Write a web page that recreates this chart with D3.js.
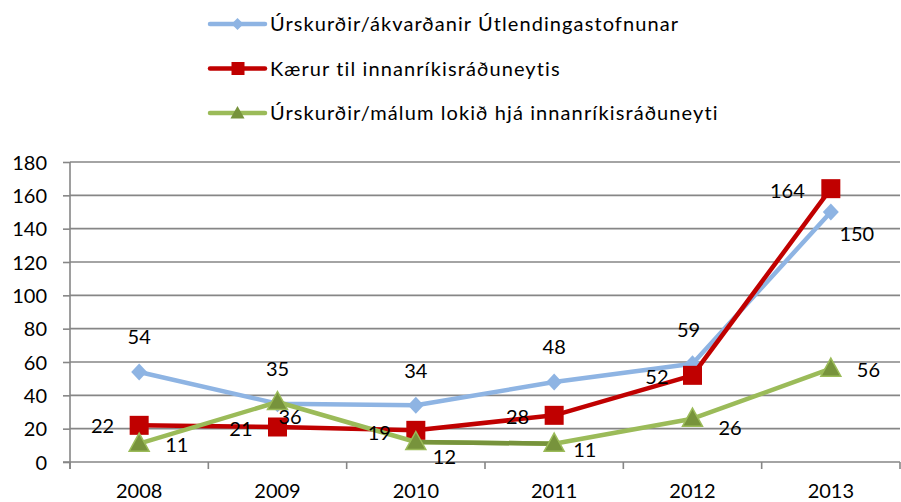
<!DOCTYPE html>
<html>
<head>
<meta charset="utf-8">
<script src="https://cdn.jsdelivr.net/npm/d3@7"></script>
<style>
  body{margin:0;background:#fff;}
  text{font-family:Lato,"Open Sans",sans-serif;fill:#000;}
</style>
</head>
<body>
<svg id="chart" width="901" height="502"></svg>
<script>
// data
var years    = ['2008','2009','2010','2011','2012','2013'];
var names    = ['Úrskurðir/ákvarðanir Útlendingastofnunar',
                'Kærur til innanríkisráðuneytis',
                'Úrskurðir/málum lokið hjá innanríkisráðuneyti'];
var decisions = [54,35,34,48,59,150];
var appeals   = [22,21,19,28,52,164];
var resolved  = [11,36,12,11,26,56];
var yTicks    = [0,20,40,60,80,100,120,140,160,180];

// styles
var colors = ['#8eb4e3','#c00000','#9bbb59'];
var markFill = ['#8eb4e3','#c00000','#77933c'];
var fs = '20px';
// label offsets from the point (dx, dy, anchor)
var labOff = [
  [[0,-35,'middle'],[0,-35,'middle'],[0,-34,'middle'],[0,-35,'middle'],[-4,-34,'middle'],[26,22,'middle']],
  [[-25,1,'end'],[-25,2,'end'],[-25,3,'end'],[-25,2,'end'],[-24,2,'end'],[-26,2,'end']],
  [[26,1,'start'],[1,15,'start'],[17,15,'start'],[19,6,'start'],[26,9,'start'],[26,1,'start']]
];
var series = [decisions,appeals,resolved];

var svg = d3.select('#chart');
var pl = 70, pr = 900, pt = 162, pb = 462;
var x = d3.scaleBand().domain(years).range([pl,pr]);
var y = d3.scaleLinear().domain([0,180]).range([pb,pt]);
var cx = function(i){return x(years[i])+x.bandwidth()/2;};

// grid
svg.append('g').selectAll('line').data(yTicks.filter(t=>t>0)).enter()
  .append('line').attr('x1',pl).attr('x2',pr)
  .attr('y1',d=>y(d)).attr('y2',d=>y(d))
  .attr('stroke','#868686').attr('stroke-width',1.6);

// axes
var ya = svg.append('g').attr('transform','translate('+pl+',0)')
  .call(d3.axisLeft(y).tickValues(yTicks).tickSize(7).tickPadding(16));
ya.select('.domain').attr('stroke','#868686').attr('stroke-width',1.6).attr('d','M0,'+(pb+7)+'V'+pt);
ya.selectAll('.tick line').attr('stroke','#868686').attr('stroke-width',1.6);
ya.selectAll('.tick text').style('font-size',fs).style('font-family','Lato').attr('fill','#000').attr('dy','0.35em');

var xa = svg.append('g').attr('transform','translate(0,'+pb+')');
xa.append('line').attr('x1',pl-7).attr('x2',pr).attr('stroke','#868686').attr('stroke-width',1.6);
xa.selectAll('.xt').data(d3.range(years.length+1)).enter().append('line')
  .attr('x1',i=>pl+i*x.step()).attr('x2',i=>pl+i*x.step())
  .attr('y1',0).attr('y2',7).attr('stroke','#868686').attr('stroke-width',1.6);
xa.selectAll('text').data(years).enter().append('text')
  .attr('x',d=>x(d)+x.bandwidth()/2).attr('y',29).attr('dy','0.35em')
  .attr('text-anchor','middle').style('font-size',fs).text(d=>d);

// markers
function marker(g,k,px,py){
  if(k==0){
    g.append('path').attr('d','M'+px+','+(py-8.5)+'l8,8.5l-8,8.5l-8,-8.5z')
      .attr('fill',markFill[0]);
  } else if(k==1){
    g.append('rect').attr('x',px-9.5).attr('y',py-9.5).attr('width',19).attr('height',19)
      .attr('fill',markFill[1]);
  } else {
    g.append('path').attr('d','M'+px+','+(py-10.5)+'l10,18l-20,0z')
      .attr('fill',markFill[2]).attr('stroke',colors[2]).attr('stroke-width',1.5);
  }
}

var line = d3.line().x((d,i)=>cx(i)).y(d=>y(d));
series.forEach(function(vals,k){
  var g = svg.append('g');
  g.append('path').attr('d',line(vals)).attr('fill','none')
    .attr('stroke',colors[k]).attr('stroke-width',4.5).attr('stroke-linejoin','round');
  if(k==2){
    // the 2010-2011 segment shows in the darker shade
    g.append('line').attr('x1',cx(2)).attr('y1',y(vals[2])).attr('x2',cx(3)).attr('y2',y(vals[3]))
      .attr('stroke',markFill[2]).attr('stroke-width',4.5);
  }
  vals.forEach(function(v,i){marker(g,k,cx(i),y(v));});
});
// labels
series.forEach(function(vals,k){
  svg.append('g').selectAll('text').data(vals).enter().append('text')
    .attr('x',(d,i)=>cx(i)+labOff[k][i][0]).attr('y',(d,i)=>y(d)+labOff[k][i][1])
    .attr('dy','0.35em').attr('text-anchor',(d,i)=>labOff[k][i][2])
    .style('font-size',fs).text(d=>d);
});

// legend
var leg = svg.append('g').selectAll('g').data(names).enter().append('g')
  .attr('transform',(d,i)=>'translate(210,'+(24+i*44.5)+')');
leg.append('line').attr('x1',0).attr('x2',55).attr('stroke',(d,i)=>colors[i])
  .attr('stroke-width',4.5).attr('stroke-linecap','round');
leg.each(function(d,i){
  var g = d3.select(this);
  if(i==0) g.append('path').attr('d','M27.5,-6l6,6l-6,6l-6,-6z').attr('fill',markFill[0]);
  if(i==1) g.append('rect').attr('x',21.5).attr('y',-6.5).attr('width',13).attr('height',13).attr('fill',markFill[1]);
  if(i==2) g.append('path').attr('d','M27.5,-7l7,12.5l-14,0z').attr('fill',markFill[2]);
});
leg.append('text').attr('x',60).attr('dy','0.35em').style('font-size',fs)
  .style('letter-spacing','1.1px').text(d=>d);
</script>
</body>
</html>
